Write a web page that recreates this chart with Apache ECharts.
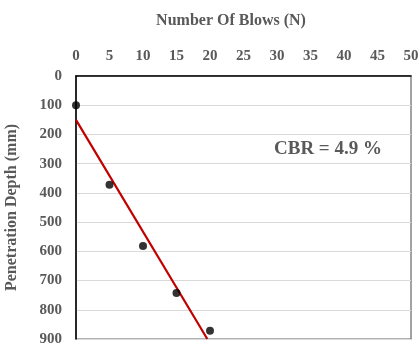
<!DOCTYPE html>
<html><head><meta charset="utf-8">
<script src="https://cdn.jsdelivr.net/npm/echarts@6/dist/echarts.min.js"></script>
<style>html,body{margin:0;padding:0;background:#fff}#c{width:420px;height:347px}</style>
</head><body><div id="c"></div>
<script>
const blows = [0, 5, 10, 15, 20];
const depth = [100, 372, 582, 743, 872];
const fitLine = [[0, 150], [19.6, 900]];
const xTitle = 'Number Of Blows (N)';
const yTitle = 'Penetration Depth (mm)';
const note = 'CBR = 4.9 %';
const font = '"Liberation Serif", "Times New Roman", serif';
const gray = '#595959';

const chart = echarts.init(document.getElementById('c'), null, {renderer: 'canvas'});
chart.setOption({
  animation: false,
  grid: {left: 76, right: 9, top: 76, bottom: 8, containLabel: false, outerBoundsMode: 'none',
    show: true, borderColor: '#666', borderWidth: 1.2},
  title: {text: xTitle, left: 226, top: 8, textAlign: 'center',
    textStyle: {fontFamily: font, fontWeight: 'bold', fontSize: 16, color: gray}},
  graphic: [{type: 'text', left: 274, top: 140,
    style: {text: note, fontFamily: font, fontWeight: 'bold', fontSize: 19, fill: gray}}],
  xAxis: {type: 'value', position: 'top', min: 0, max: 50, interval: 5,
    axisLine: {show: true, onZero: false, lineStyle: {color: '#000', width: 1.5}},
    axisTick: {show: false}, splitLine: {show: false},
    axisLabel: {fontFamily: font, fontWeight: 'bold', fontSize: 15, color: gray, margin: 12}},
  yAxis: {type: 'value', inverse: true, min: 0, max: 900, interval: 100,
    name: yTitle, nameLocation: 'middle', nameGap: 56, nameRotate: 90,
    nameTextStyle: {fontFamily: font, fontWeight: 'bold', fontSize: 16, color: gray},
    axisLine: {show: true, onZero: false, lineStyle: {color: '#000', width: 1.5}},
    axisTick: {show: false},
    splitLine: {show: true, lineStyle: {color: '#d9d9d9', width: 1}},
    axisLabel: {fontFamily: font, fontWeight: 'bold', fontSize: 15, color: gray, margin: 14}},
  series: [
    {type: 'line', data: fitLine, symbol: 'none', lineStyle: {color: '#c00000', width: 2.2}, z: 3},
    {type: 'scatter', data: blows.map((b, i) => [b, depth[i]]), symbol: 'circle', symbolSize: 8,
      itemStyle: {color: '#000'}, z: 4}
  ]
});
</script></body></html>
